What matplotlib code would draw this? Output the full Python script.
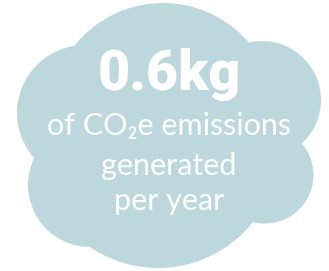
import matplotlib

matplotlib.use("Agg")

import matplotlib.pyplot as plt
from matplotlib.patches import Circle

# headline figure and caption lines
value_text = "0.6kg"
caption_lines = ["of CO\u2082e emissions", "generated", "per year"]

# cloud lobes in pixel units (x, y from top-left), radius
lobe_x = [163, 262, 265, 158, 85, 90]
lobe_y = [116, 100, 175, 147, 113, 185]
lobe_r = [113, 59, 48.5, 121, 68, 62]

CLOUD = "#bdd8dd"
W, H = 329, 271

fig = plt.figure(figsize=(W / 100, H / 100), dpi=100)
ax = fig.add_axes([0, 0, 1, 1])
ax.set_xlim(0, W)
ax.set_ylim(H, 0)
ax.set_aspect("equal")
ax.axis("off")

for x, y, r in zip(lobe_x, lobe_y, lobe_r):
    ax.add_patch(Circle((x, y), r, facecolor=CLOUD, edgecolor="none"))

ax.text(169, 90, value_text, ha="center", va="baseline", color="white",
        fontsize=40, fontweight="black", family=["Roboto", "DejaVu Sans"])

fonts = ["Lato", "DejaVu Sans"]
baselines = [135, 175, 210]
for line, yb in zip(caption_lines, baselines):
    ax.text(169, yb, line, ha="center", va="baseline", color="white",
            fontsize=22, family=fonts)

fig.savefig("out.png", dpi=100)
